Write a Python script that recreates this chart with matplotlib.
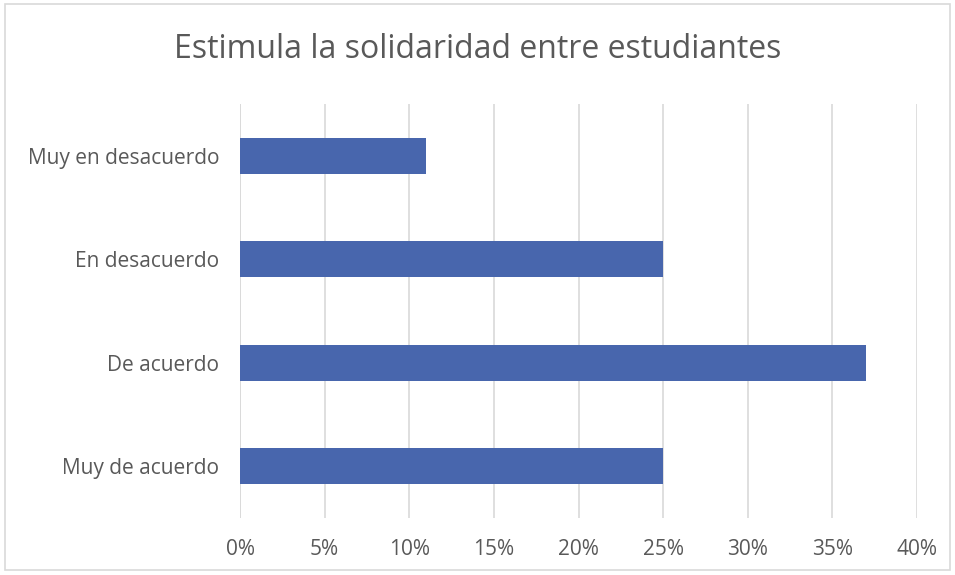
import matplotlib
matplotlib.use("Agg")
import matplotlib.pyplot as plt
from matplotlib.patches import Rectangle
from matplotlib.ticker import FuncFormatter, MultipleLocator

title = "Estimula la solidaridad entre estudiantes"
categories = ["Muy de acuerdo", "De acuerdo", "En desacuerdo", "Muy en desacuerdo"]
values = [25, 37, 25, 11]
xticks = [0, 5, 10, 15, 20, 25, 30, 35, 40]

W, H = 955, 575
fig = plt.figure(figsize=(W / 100, H / 100), dpi=100)
plt.rcParams['font.family'] = ['Open Sans', 'DejaVu Sans']
txt = '#595959'

fig.patches.append(Rectangle((5 / W, 1 - 570 / H), 945 / W, 566 / H, transform=fig.transFigure,
                             fill=False, edgecolor='#d9d9d9', linewidth=1.2))

left, right, top, bottom = 240, 917, 104, 518
ax = fig.add_axes([left / W, 1 - bottom / H, (right - left) / W, (bottom - top) / H])
ax.barh(range(len(categories)), values, height=0.35, color='#4866AD', zorder=3)
ax.set_ylim(-0.5, len(categories) - 0.5)
ax.set_xlim(0, 40)
ax.set_xticks(xticks)
ax.xaxis.set_major_formatter(FuncFormatter(lambda v, p: f"{int(v)}%"))
ax.set_yticks(range(len(categories)))
ax.set_yticklabels(categories)
ax.grid(axis='x', color='#d9d9d9', linewidth=1.2, zorder=0)
for s in ax.spines.values():
    s.set_visible(False)
ax.axvline(0, color='#d9d9d9', linewidth=1.2, zorder=1)
ax.tick_params(length=0, labelsize=15, labelcolor=txt)
ax.tick_params(axis='x', pad=15)
ax.tick_params(axis='y', pad=15)
fig.text(0.5, 1 - 50 / H, title, ha='center', va='center', fontsize=23, color=txt)

fig.savefig("out.png", dpi=100)
